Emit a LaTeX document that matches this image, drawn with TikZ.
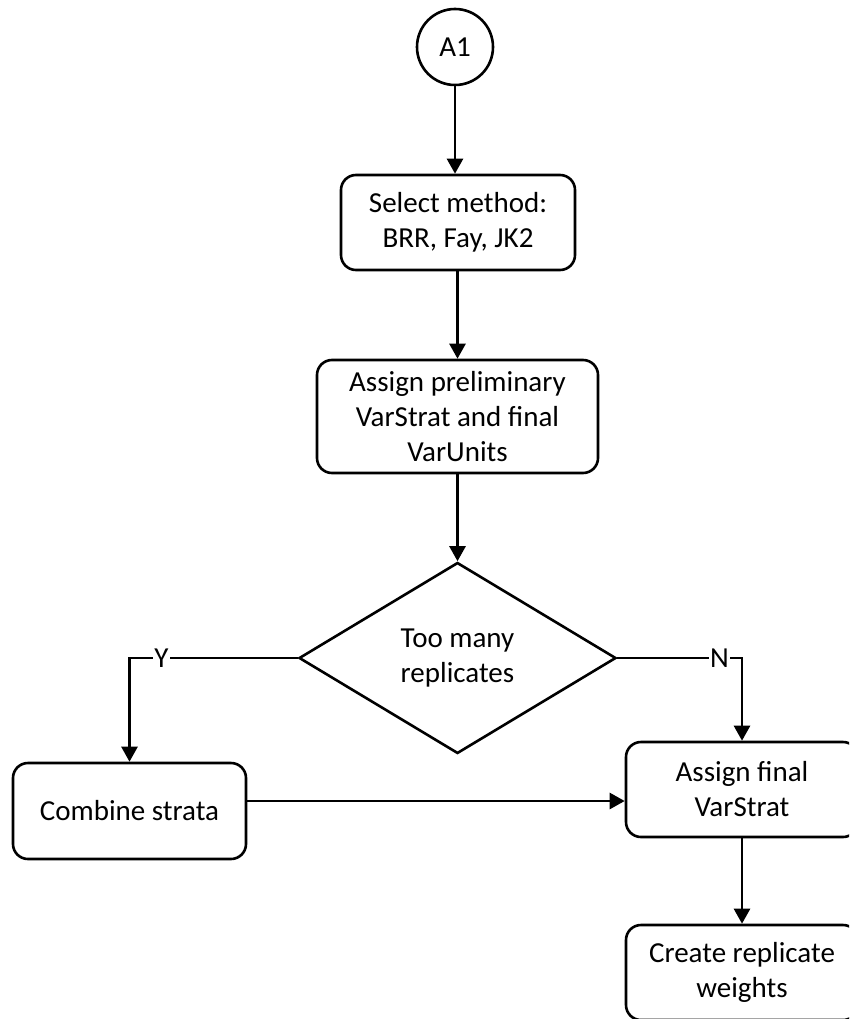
\documentclass[tikz,border=0pt]{standalone}
\usepackage{fontspec}
\setmainfont{Carlito}
\usetikzlibrary{shapes.geometric,arrows.meta}

\tikzset{
  every node/.style={font=\fontsize{29}{35}\selectfont, text=black},
  stepbox/.style={draw, line width=2.6pt, rounded corners=15pt, align=center,
                  inner sep=0pt, fill=white},
  decide/.style={draw, diamond, line width=2.6pt, align=center, inner sep=0pt,
                 shape aspect=1.66, fill=white},
  conn/.style={draw, circle, line width=2.6pt, inner sep=0pt, minimum size=76pt},
  flow/.style={line width=2.6pt, -{Triangle[length=15pt,width=16pt]}},
  branch/.style={fill=white, inner sep=1.5pt}
}

\begin{document}
\begin{tikzpicture}[x=1pt,y=-1pt]
  \useasboundingbox (0,0) rectangle (849,1019);
  \clip (0,0) rectangle (849,1019);

  % nodes
  \node[conn] (a1) at (455,47) {A1};
  \node[stepbox, minimum width=234pt, minimum height=95pt] (sel) at (458,222.5)
        {Select method:\\BRR, Fay, JK2};
  \node[stepbox, minimum width=281pt, minimum height=113pt] (prelim) at (457.5,416.5)
        {Assign preliminary\\VarStrat and final\\VarUnits};
  \node[decide, minimum width=317pt, minimum height=191pt] (many) at (457.5,658)
        {Too many\\replicates};
  \node[stepbox, minimum width=233pt, minimum height=96pt] (comb) at (129.5,811)
        {Combine strata};
  \node[stepbox, minimum width=232pt, minimum height=95pt] (final) at (742,789.5)
        {Assign final\\VarStrat};
  \node[stepbox, minimum width=232pt, minimum height=95pt] (weights) at (742,972.5)
        {Create replicate\\weights};

  \coordinate (mid) at (0,801);

  % connectors
  \draw[flow] (a1.south) -- (a1.south |- sel.north);
  \draw[flow] (sel.south -| prelim.north) -- (prelim.north);
  \draw[flow] (prelim.south) -- (many.north);
  \draw[flow] (many.west) -| node[branch, pos=0.405] {Y} (comb.north);
  \draw[flow] (many.east) -| node[branch, pos=0.41] {N} (final.north);
  \draw[flow] (comb.east |- mid) -- (final.west |- mid);
  \draw[flow] (final.south) -- (weights.north);
\end{tikzpicture}
\end{document}
